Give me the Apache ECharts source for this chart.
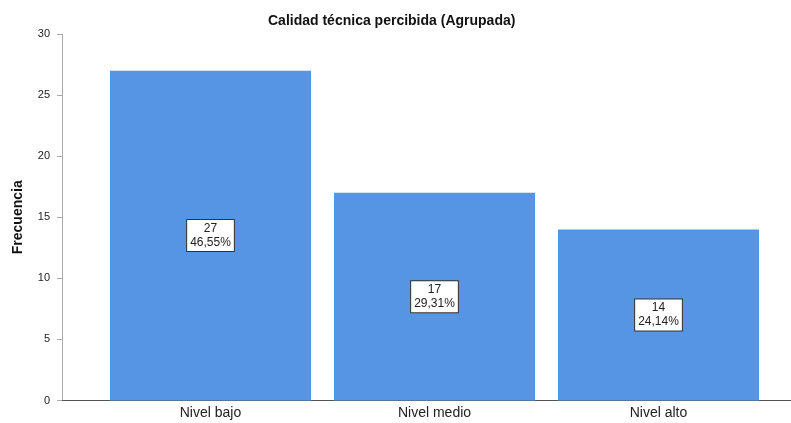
<!DOCTYPE html>
<html>
<head>
<meta charset="utf-8">
<script src="https://cdn.jsdelivr.net/npm/echarts@6/dist/echarts.min.js"></script>
<style>
  html, body { margin: 0; padding: 0; background: #fff; }
  #chart { width: 791px; height: 423px; }
</style>
</head>
<body>
<div id="chart"></div>
<script>
// datos
var categorias = ["Nivel bajo", "Nivel medio", "Nivel alto"];
var frecuencias = [27, 17, 14];
var porcentajes = ["46,55%", "29,31%", "24,14%"];
var ticksY = [0, 5, 10, 15, 20, 25, 30];

var chart = echarts.init(document.getElementById("chart"));
var fuente = "Liberation Sans, Arial, sans-serif";

var option = {
  animation: false,
  title: {
    text: "Calidad técnica percibida (Agrupada)",
    left: 268,
    top: 14,
    padding: 0,
    textStyle: { fontFamily: fuente, fontSize: 14, fontWeight: "bold", color: "#111" }
  },
  grid: [
    { left: 98.5, right: 20.5, top: 34, bottom: 22.5, outerBoundsMode: "none" },
    // solo para la linea del eje X que va de borde a borde
    { left: 62, right: 0, top: 34, bottom: 22.5, outerBoundsMode: "none" }
  ],
  xAxis: [
    {
      type: "category",
      gridIndex: 0,
      data: categorias,
      axisLine: { show: false },
      axisTick: { show: false },
      axisLabel: { fontFamily: fuente, fontSize: 14, color: "#222", margin: 6 }
    },
    {
      type: "category",
      gridIndex: 1,
      data: [""],
      axisLine: { show: true, lineStyle: { color: "#555", width: 1 } },
      axisTick: { show: false },
      axisLabel: { show: false }
    }
  ],
  yAxis: [
    {
      type: "value",
      gridIndex: 0,
      min: ticksY[0],
      max: ticksY[ticksY.length - 1],
      interval: 5,
      offset: 36.5,
      name: "Frecuencia",
      nameLocation: "middle",
      nameGap: 37,
      nameTextStyle: { fontFamily: fuente, fontSize: 14, fontWeight: "bold", color: "#111" },
      axisLine: { show: true, lineStyle: { color: "#aaa" } },
      axisTick: { show: true, length: 5, lineStyle: { color: "#aaa" } },
      axisLabel: { fontFamily: fuente, fontSize: 11, color: "#222", margin: 12 },
      splitLine: { show: false }
    },
    {
      type: "value",
      gridIndex: 1,
      show: false
    }
  ],
  series: [
    {
      type: "bar",
      xAxisIndex: 0,
      yAxisIndex: 0,
      data: frecuencias,
      barWidth: 201,
      itemStyle: { color: "#5694E4" },
      label: {
        show: true,
        position: "inside",
        formatter: function (p) {
          return p.value + "\n" + porcentajes[p.dataIndex];
        },
        fontFamily: fuente,
        fontSize: 12,
        lineHeight: 14,
        color: "#222",
        backgroundColor: "#fff",
        borderColor: "#333",
        borderWidth: 1,
        padding: [2, 3, 1, 3]
      }
    }
  ]
};

chart.setOption(option);
</script>
</body>
</html>
